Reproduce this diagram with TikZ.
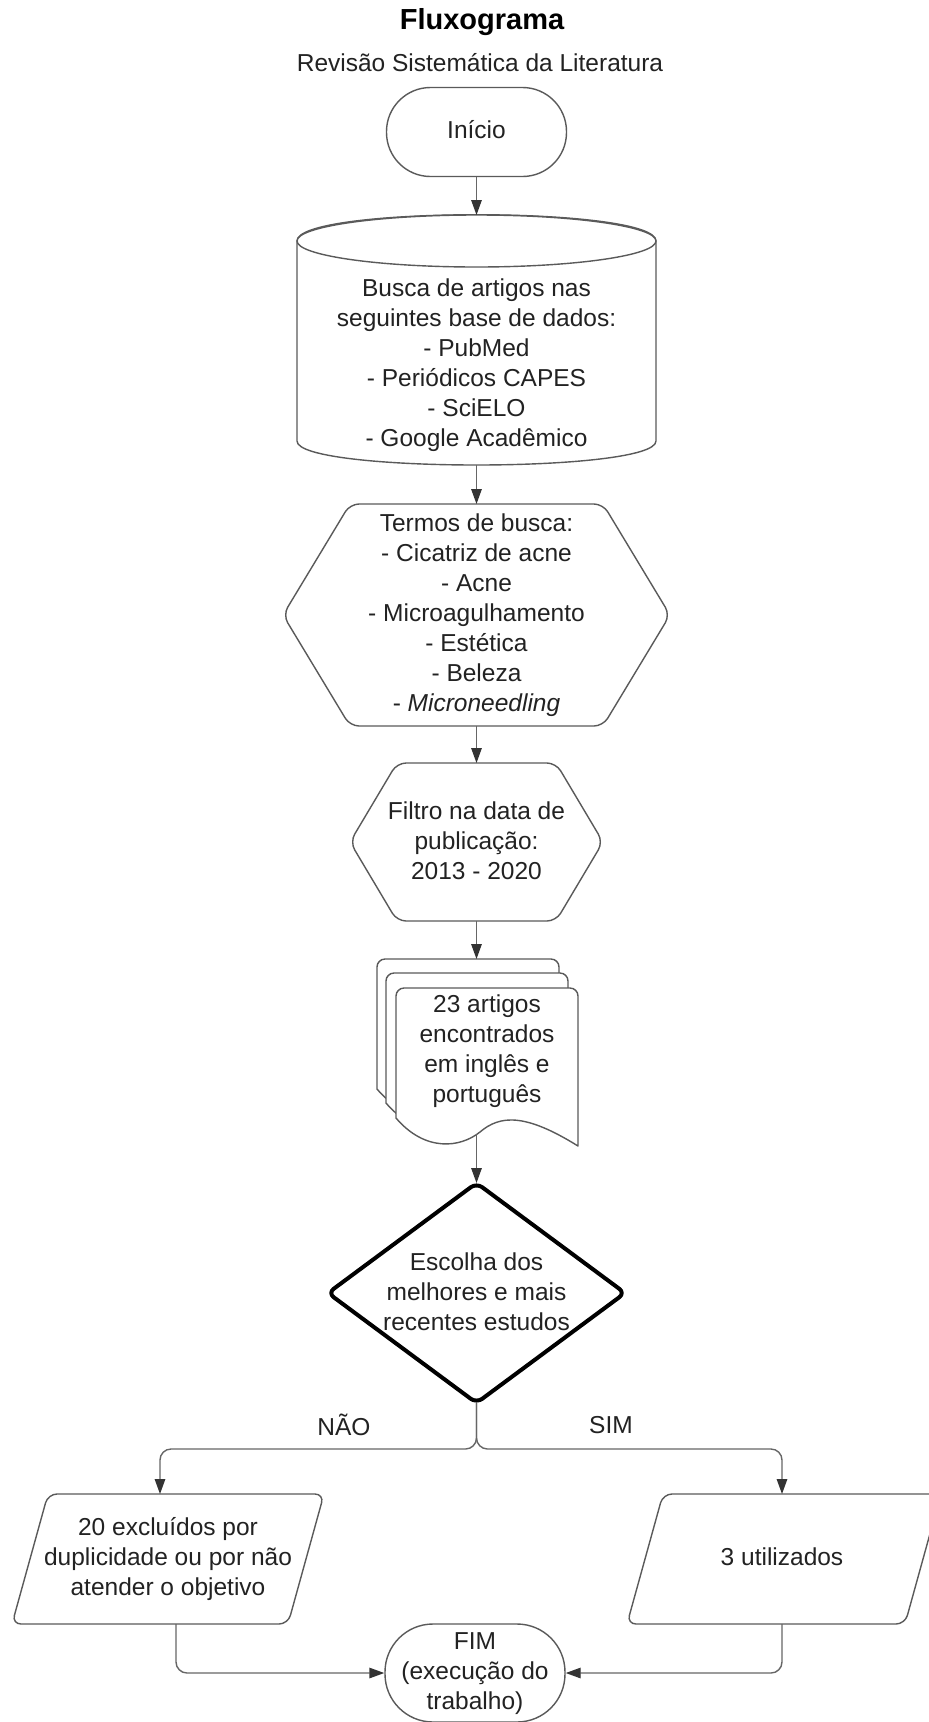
\documentclass[tikz,border=0pt]{standalone}
\usepackage{fontspec}
\setmainfont{Liberation Sans}
\usetikzlibrary{arrows.meta,calc}
\definecolor{txt}{HTML}{222222}
\definecolor{edge}{HTML}{5A5A5A}
\definecolor{connc}{HTML}{666666}
\definecolor{tipc}{HTML}{333333}
\begin{document}
\begin{tikzpicture}[x=1pt,y=-1pt,
  shapeline/.style={draw=edge,line width=1.4pt,fill=white,line join=round},
  lbl/.style={text=txt,font=\fontsize{24.5}{30}\selectfont,align=center,inner sep=0pt},
  conn/.style={draw=connc,line width=1.4pt,-{Triangle[length=15pt,width=10.5pt,color=tipc,fill=tipc]},rounded corners=11pt},
  ]
\useasboundingbox (0,0) rectangle (929,1722);
\fill[white] (0,0) rectangle (929,1722);

% title
\node[font=\bfseries\fontsize{29}{34}\selectfont,text=black,inner sep=0pt] (title) at (482,22) {Fluxograma};
\node[lbl] (sub) at (480,63) {Revisão Sistemática da Literatura};

% start
\node[shapeline,lbl,rounded corners=44pt,minimum width=180pt,minimum height=89pt] (ini) at (476.5,132) {};
\node[lbl] (initxt) at (476.5,130) {Início};

% database cylinder
\coordinate (dbtop) at (476.5,215);
\coordinate (dbbot) at (476.5,465);
\draw[shapeline] (297,241) -- (297,441) .. controls (297,473) and (656,473) .. (656,441) -- (656,241) .. controls (656,206) and (297,206) .. cycle;
\draw[shapeline] (476.5,241) ellipse [x radius=179.5,y radius=26];
\node[lbl] (db) at (476.5,365) {Busca de artigos nas\\seguintes base de dados:\\- PubMed\\- Periódicos CAPES\\- SciELO\\- Google Acadêmico};

% search terms hexagon
\coordinate (tatop) at (476.5,504);
\coordinate (tabot) at (476.5,726);
\draw[shapeline,rounded corners=9pt] (283,615) -- (350,504) -- (603,504) -- (670,615) -- (603,726) -- (350,726) -- cycle;
\node[lbl] (terms) at (476.5,615) {Termos de busca:\\- Cicatriz de acne\\- Acne\\- Microagulhamento\\- Estética\\- Beleza\\- \textit{Microneedling}};

% date filter hexagon
\coordinate (tbtop) at (476.5,763);
\coordinate (tbbot) at (476.5,921);
\draw[shapeline,rounded corners=9pt] (350,842) -- (397,763) -- (556,763) -- (603,842) -- (556,921) -- (397,921) -- cycle;
\node[lbl] (filter) at (476.5,841) {Filtro na data de\\publicação:\\2013 - 2020};

% document stack
\coordinate (doctop) at (476.5,959);
\coordinate (docbot) at (476.5,1134);
\foreach \dx/\dy in {-19/-29,-10/-15,0/0}{
  \draw[shapeline,shift={(\dx,\dy)}] (396,1118) -- (396,996) .. controls (396,991.6) and (399.6,988) .. (404,988) -- (570,988) .. controls (574.4,988) and (578,991.6) .. (578,996) -- (578,1146) .. controls (525,1113) and (500,1115) .. (480,1132) .. controls (460,1148) and (425,1152) .. (396,1118) -- cycle;
}
\node[lbl] (docs) at (487,1051) {23 artigos\\encontrados\\em inglês e\\português};

% decision
\coordinate (dectop) at (476.5,1183);
\coordinate (decbot) at (476.5,1403);
\draw[draw=black,line width=4pt,rounded corners=7pt,fill=white,line join=round] (476.5,1183) -- (625,1293) -- (476.5,1403) -- (328,1293) -- cycle;
\node[lbl] (dec) at (476.5,1292) {Escolha dos\\melhores e mais\\recentes estudos};

% outcomes
\coordinate (extop) at (160,1494);
\coordinate (exbot) at (176,1624);
\draw[shapeline,rounded corners=9pt] (12,1624) -- (48,1494) -- (324,1494) -- (288,1624) -- cycle;
\node[lbl] (excl) at (168,1559) {20 excluídos por\\duplicidade ou por não\\atender o objetivo};

\coordinate (ustop) at (782,1494);
\coordinate (usbot) at (782,1624);
\draw[shapeline,rounded corners=9pt] (627,1624) -- (663,1494) -- (941,1494) -- (905,1624) -- cycle;
\node[lbl] (used) at (782,1557) {3 utilizados};

% end
\node[shapeline,lbl,rounded corners=48pt,minimum width=180pt,minimum height=98pt] (fim) at (475,1673) {};
\node[lbl] (fimtxt) at (475,1674) {FIM\\(execução do\\trabalho)};

% branch labels
\node[lbl] (no) at (344,1425) {NÃO};
\node[lbl] (yes) at (611,1425) {SIM};

% connectors
\draw[conn] (ini) -- (dbtop);
\draw[conn] (dbbot) -- (tatop);
\draw[conn] (tabot) -- (tbtop);
\draw[conn] (tbbot) -- (doctop);
\draw[conn] (docbot) -- (dectop);
\draw[conn] (decbot) -- (476.5,1449) -- (160,1449) -- (extop);
\draw[conn] (decbot) -- (476.5,1449) -- (782,1449) -- (ustop);
\draw[conn] (exbot) -- (176,1673) -- (fim.west);
\draw[conn] (usbot) -- (782,1673) -- (fim.east);
\end{tikzpicture}
\end{document}
